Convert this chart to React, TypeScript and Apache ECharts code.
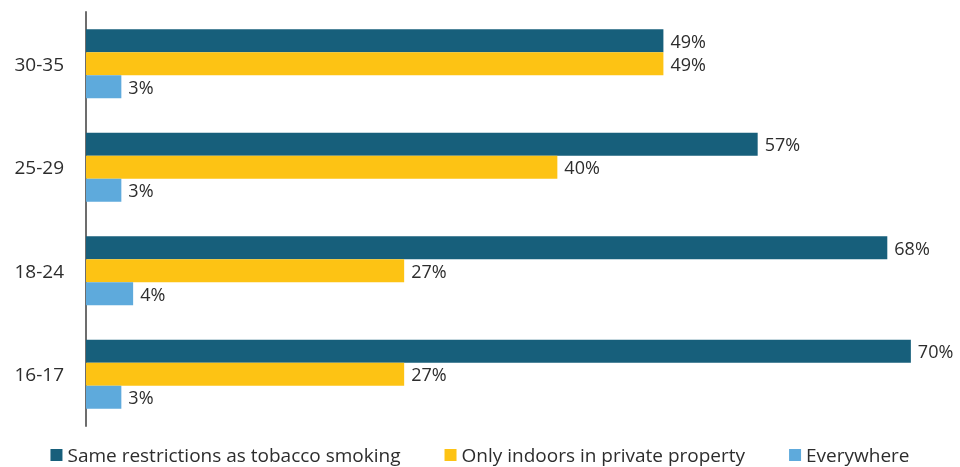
import React, { useEffect, useRef } from "react";
import * as echarts from "echarts";

const categories = ["16-17", "18-24", "25-29", "30-35"];
const seriesNames = [
  "Same restrictions as tobacco smoking",
  "Only indoors in private property",
  "Everywhere",
];
const sameRestrictions = [70, 68, 57, 49];
const onlyIndoors = [27, 27, 40, 49];
const everywhere = [3, 4, 3, 3];
const colors = ["#175f7b", "#fdc314", "#5eaadc"];

export default function App() {
  const ref = useRef<HTMLDivElement>(null);
  useEffect(() => {
    if (!ref.current) return;
    const chart = echarts.init(ref.current, undefined, { renderer: "svg" });
    const values = [sameRestrictions, onlyIndoors, everywhere];
    const font = "'Open Sans', sans-serif";
    chart.setOption({
      animation: false,
      grid: { left: 86, right: 2, top: 12, height: 414, containLabel: false },
      legend: {
        top: 445,
        left: "center",
        padding: 0,
        itemWidth: 12,
        itemHeight: 12,
        itemGap: 44,
        icon: "rect",
        textStyle: { fontFamily: font, fontSize: 19, lineHeight: 20, color: "#2d2d2d" },
        data: seriesNames,
      },
      xAxis: {
        type: "value",
        min: 0,
        max: 74,
        show: false,
      },
      yAxis: {
        type: "category",
        data: categories,
        axisLine: { show: true, lineStyle: { color: "#6d6d6d", width: 2 } },
        axisTick: { show: false },
        axisLabel: { fontFamily: font, fontSize: 19, color: "#2d2d2d", margin: 22 },
      },
      series: seriesNames.map((name, i) => ({
        name,
        type: "bar",
        data: values[i],
        barWidth: 23,
        barGap: "0%",
        itemStyle: { color: colors[i] },
        label: {
          show: true,
          position: "right",
          distance: 7,
          formatter: "{c}%",
          fontFamily: font,
          fontSize: 18,
          lineHeight: 18,
          color: "#2d2d2d",
        },
      })),
    });
    return () => chart.dispose();
  }, []);
  return (
    <div
      ref={ref}
      style={{ position: "fixed", left: 0, top: 0, width: 960, height: 467 }}
    />
  );
}
